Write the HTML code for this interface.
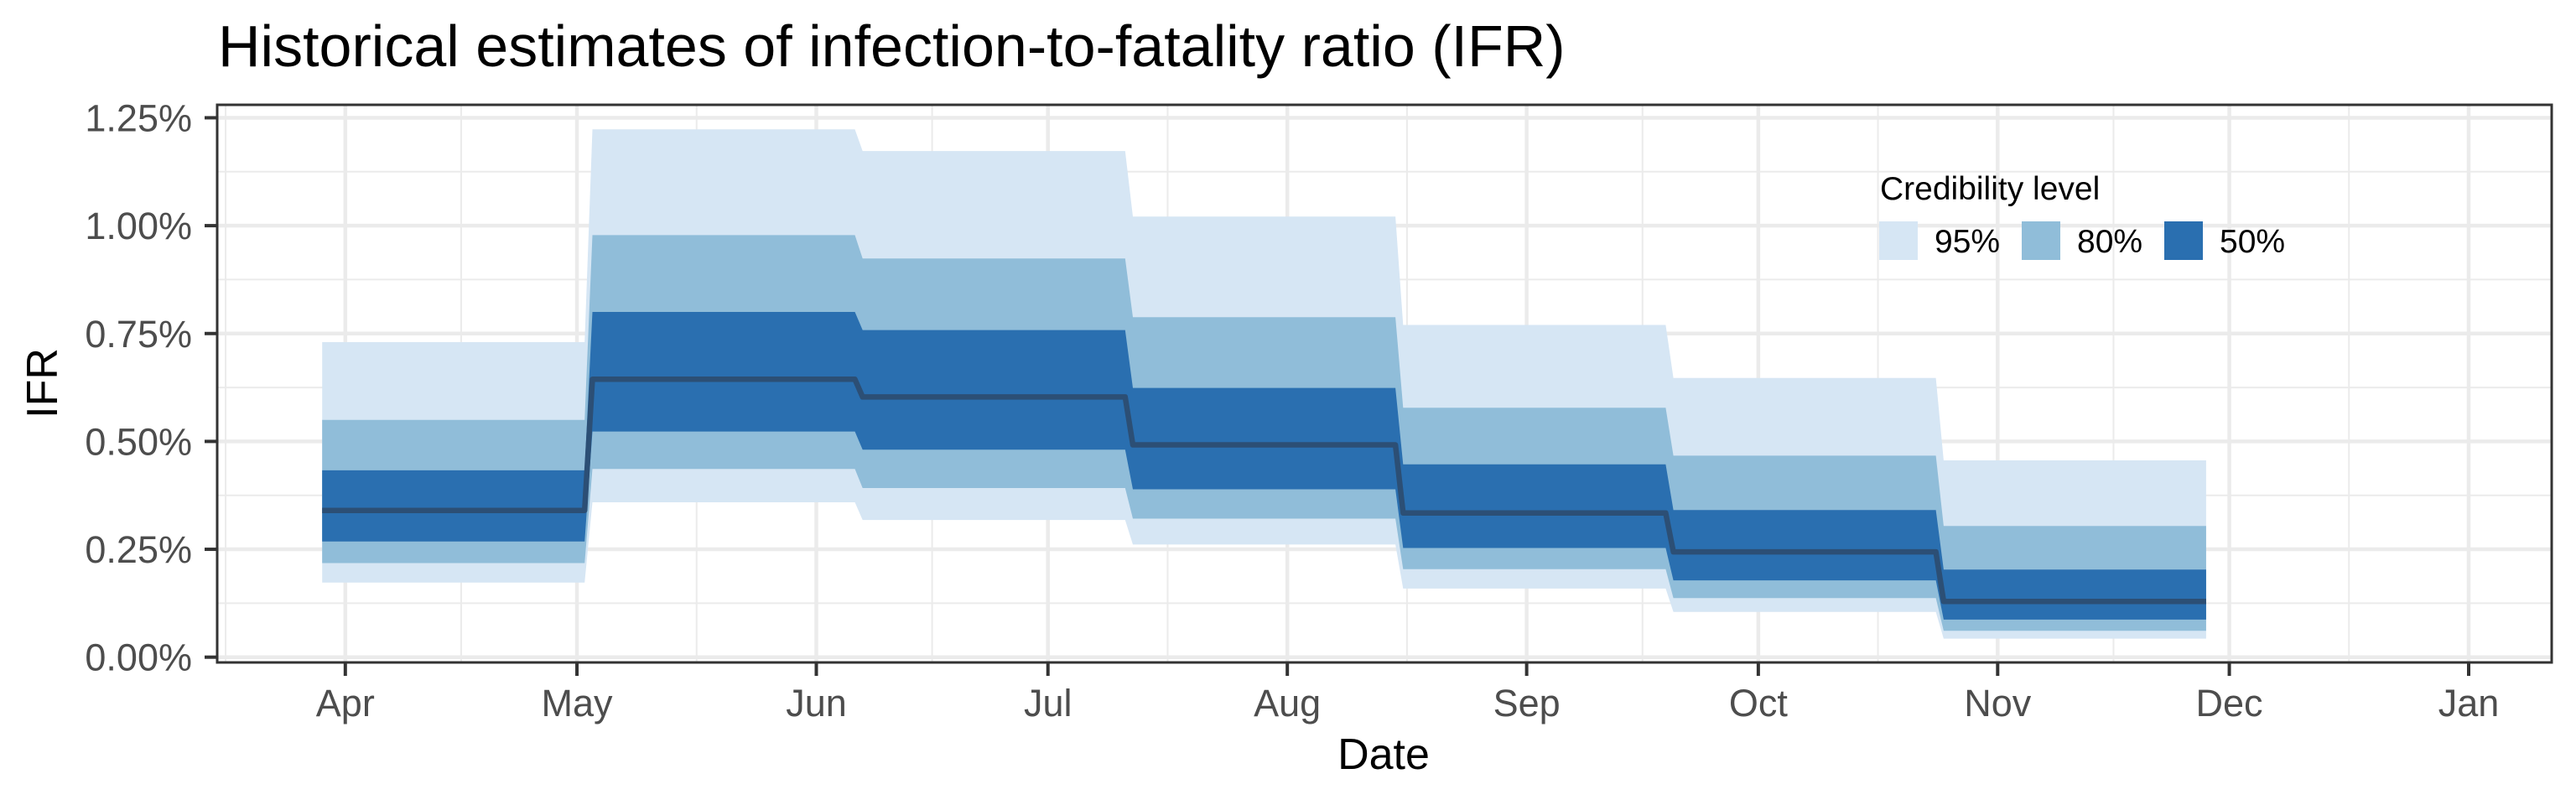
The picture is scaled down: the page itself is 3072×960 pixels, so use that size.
<!DOCTYPE html>
<html><head><meta charset="utf-8"><style>
html,body{margin:0;padding:0;background:#fff;}
svg{display:block;font-family:"Liberation Sans",Arial,sans-serif;}
</style></head><body>
<svg id="chart" width="3072" height="960" viewBox="0 0 3072 960" xmlns="http://www.w3.org/2000/svg">
<text x="260" y="79" font-size="70" fill="#000">Historical estimates of infection-to-fatality ratio (IFR)</text>
<g id="grid"></g>
<g id="marks"></g>
<rect x="259" y="125" width="2784" height="665" fill="none" stroke="#333" stroke-width="3"/>
<g id="axes"></g>
<text x="1650" y="917" font-size="52" text-anchor="middle" fill="#000">Date</text>
<text transform="translate(68,457) rotate(-90)" font-size="52" text-anchor="middle" fill="#000">IFR</text>
<g>
<text x="2242" y="238" font-size="39" fill="#000">Credibility level</text>
<rect x="2241" y="264" width="46" height="46" fill="#d6e6f4"/>
<text x="2307" y="301" font-size="39" fill="#000">95%</text>
<rect x="2411" y="264" width="46" height="46" fill="#90bdd9"/>
<text x="2477" y="301" font-size="39" fill="#000">80%</text>
<rect x="2581" y="264" width="46" height="46" fill="#2a6fb0"/>
<text x="2647" y="301" font-size="39" fill="#000">50%</text>
</g>
</svg>
<script>
// days since Apr 1
const segStart = [-3, 32, 67, 102, 137, 172, 207];
const segEnd   = [31, 66, 101, 136, 171, 206, 241];
const median = [0.340, 0.644, 0.603, 0.492, 0.334, 0.244, 0.129];
const lo50 = [0.268, 0.523, 0.481, 0.389, 0.253, 0.178, 0.087];
const hi50 = [0.433, 0.800, 0.758, 0.624, 0.447, 0.341, 0.203];
const lo80 = [0.218, 0.436, 0.392, 0.321, 0.204, 0.137, 0.061];
const hi80 = [0.550, 0.978, 0.924, 0.788, 0.578, 0.467, 0.304];
const lo95 = [0.173, 0.359, 0.318, 0.261, 0.159, 0.105, 0.043];
const hi95 = [0.730, 1.223, 1.173, 1.021, 0.770, 0.647, 0.456];
const monthLabels = ["Apr","May","Jun","Jul","Aug","Sep","Oct","Nov","Dec","Jan"];
const monthDays = [0, 30, 61, 91, 122, 153, 183, 214, 244, 275];
const yTicks = [0, 0.25, 0.5, 0.75, 1.0, 1.25];
const yTickLabels = ["0.00%","0.25%","0.50%","0.75%","1.00%","1.25%"];

const NS = "http://www.w3.org/2000/svg";
const PX = 259, PX2 = 3043, PY = 125, PY2 = 790;
const x = d => 411.8 + d * 9.208;
const y = v => 783.7 - v * 514.6;
function mk(tag, attrs, parent){ const e = document.createElementNS(NS, tag); for (const k in attrs) e.setAttribute(k, attrs[k]); parent.appendChild(e); return e; }
const grid = document.getElementById('grid'), marks = document.getElementById('marks'), axes = document.getElementById('axes');

for (let i = 0; i < yTicks.length - 1; i++) {
  const v = (yTicks[i] + yTicks[i+1]) / 2;
  const l = mk('line', {x1:PX, x2:PX2, y1:y(v), y2:y(v), stroke:'#ebebeb', 'stroke-width':2}, grid);
  
  
}
const mids = [-15.5];
for (let i = 0; i < monthDays.length - 1; i++) mids.push((monthDays[i] + monthDays[i+1]) / 2);
mids.forEach(d => {
  const l = mk('line', {x1:x(d), x2:x(d), y1:PY, y2:PY2, stroke:'#ebebeb', 'stroke-width':2}, grid);
  
  
});
yTicks.forEach(v => {
  const l = mk('line', {x1:PX, x2:PX2, y1:y(v), y2:y(v), stroke:'#ebebeb', 'stroke-width':4.5}, grid);
  
  
});
monthDays.forEach(d => {
  const l = mk('line', {x1:x(d), x2:x(d), y1:PY, y2:PY2, stroke:'#ebebeb', 'stroke-width':4.5}, grid);
  
  
});

function pts(arr){ const p = []; for (let i = 0; i < arr.length; i++){ p.push([x(segStart[i]), y(arr[i])]); p.push([x(segEnd[i]), y(arr[i])]); } return p; }
function ribbon(lo, hi, color, name){
  const up = pts(hi), dn = pts(lo).reverse();
  const d = up.concat(dn).map((p,i)=>(i?'L':'M')+p[0].toFixed(1)+','+p[1].toFixed(1)).join('')+'Z';
  const e = mk('path', {d:d, fill:color}, marks);
  
  
}
ribbon(lo95, hi95, '#d6e6f4', 'ribbon-95');
ribbon(lo80, hi80, '#90bdd9', 'ribbon-80');
ribbon(lo50, hi50, '#2a6fb0', 'ribbon-50');
const mp = pts(median).map(p=>p[0].toFixed(1)+','+p[1].toFixed(1)).join(' ');
const ml = mk('polyline', {points:mp, fill:'none', stroke:'#2c4f75', 'stroke-width':6.5, 'stroke-linejoin':'round'}, marks);



yTicks.forEach((v,i) => {
  const t = mk('line', {x1:PX-15, x2:PX-1, y1:y(v), y2:y(v), stroke:'#333', 'stroke-width':4}, axes);
  
  
  const tx = mk('text', {x:229, y:y(v)+16, 'font-size':45, 'text-anchor':'end', fill:'#4d4d4d'}, axes);
  tx.textContent = yTickLabels[i];
  
  
});
monthDays.forEach((d,i) => {
  const t = mk('line', {x1:x(d), x2:x(d), y1:PY2+1, y2:PY2+16, stroke:'#333', 'stroke-width':4}, axes);
  
  
  const tx = mk('text', {x:x(d), y:854, 'font-size':45, 'text-anchor':'middle', fill:'#4d4d4d'}, axes);
  tx.textContent = monthLabels[i];
  
  
});
</script>
</body></html>
